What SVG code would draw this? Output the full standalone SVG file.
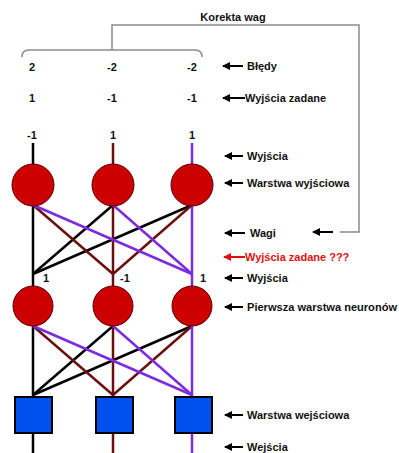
<svg xmlns="http://www.w3.org/2000/svg" width="399" height="453" viewBox="0 0 399 453">
<defs>
<style>
.t{font-family:"Liberation Sans",Arial,sans-serif;font-weight:bold;font-size:11px;fill:#111}
.n{text-anchor:middle}
.red{fill:#e01010}
.k{stroke:#000;stroke-width:2.5;fill:none}
.r{stroke:#6a1010;stroke-width:2.5;fill:none}
.p{stroke:#7b2be0;stroke-width:2.5;fill:none}
.neu{fill:#cc0000;stroke:#5a0000;stroke-width:1}
.inp{fill:#0050f0;stroke:#000;stroke-width:2}
.gl{stroke:#8a8a8a;stroke-width:1.5;fill:none}
.ar{stroke:#000;stroke-width:2;fill:none;marker-start:url(#ah)}
.arr{stroke:#e01010;stroke-width:2;fill:none;marker-start:url(#ahr)}
</style>
<marker id="ah" markerWidth="8" markerHeight="8" refX="7" refY="4" orient="auto-start-reverse" markerUnits="userSpaceOnUse"><path d="M0,0 L8,4 L0,8 z" fill="#000"/></marker>
<marker id="ahr" markerWidth="8" markerHeight="8" refX="7" refY="4" orient="auto-start-reverse" markerUnits="userSpaceOnUse"><path d="M0,0 L8,4 L0,8 z" fill="#e01010"/></marker>
</defs>
<rect width="399" height="453" fill="#fff"/>

<g id="feedback">
<text class="t n" x="233" y="21">Korekta wag</text>
<path class="gl" d="M22,57 Q22,50 29,50 L195,50 Q202,50 202,57"/>
<path class="gl" d="M112,50 L112,25 L359,25 L359,232 L340,232"/>
<line class="ar" x1="313" y1="232" x2="333" y2="232"/>
</g>

<g id="values">
<text class="t n" x="32" y="71">2</text>
<text class="t n" x="112" y="71">-2</text>
<text class="t n" x="192" y="71">-2</text>
<text class="t n" x="32" y="102">1</text>
<text class="t n" x="112" y="102">-1</text>
<text class="t n" x="192" y="102">-1</text>
<text class="t n" x="32" y="139">-1</text>
<text class="t n" x="113" y="139">1</text>
<text class="t n" x="192" y="139">1</text>
<text class="t" x="43" y="282">1</text>
<text class="t" x="120" y="282">-1</text>
<text class="t" x="200" y="282">1</text>
</g>

<g id="connectors">
<line class="k" x1="33" y1="143" x2="33" y2="166"/>
<line class="r" x1="113" y1="143" x2="113" y2="166"/>
<line class="p" x1="192" y1="143" x2="192" y2="166"/>
<line class="k" x1="33" y1="205" x2="33" y2="287"/>
<line class="k" x1="113" y1="205" x2="33" y2="274"/>
<line class="k" x1="192" y1="205" x2="33" y2="274"/>
<line class="r" x1="33" y1="205" x2="113" y2="274"/>
<line class="r" x1="113" y1="205" x2="113" y2="287"/>
<line class="r" x1="192" y1="205" x2="113" y2="274"/>
<line class="p" x1="33" y1="205" x2="192" y2="274"/>
<line class="p" x1="113" y1="205" x2="192" y2="274"/>
<line class="p" x1="192" y1="205" x2="192" y2="287"/>
<line class="k" x1="33" y1="326" x2="33" y2="397"/>
<line class="k" x1="113" y1="326" x2="33" y2="395"/>
<line class="k" x1="192" y1="326" x2="33" y2="395"/>
<line class="r" x1="33" y1="326" x2="113" y2="395"/>
<line class="r" x1="113" y1="326" x2="113" y2="397"/>
<line class="r" x1="192" y1="326" x2="113" y2="395"/>
<line class="p" x1="33" y1="326" x2="192" y2="395"/>
<line class="p" x1="113" y1="326" x2="192" y2="395"/>
<line class="p" x1="192" y1="326" x2="192" y2="397"/>
<line class="k" x1="33" y1="433" x2="33" y2="453"/>
<line class="r" x1="113" y1="433" x2="113" y2="453"/>
<line class="p" x1="192" y1="433" x2="192" y2="453"/>
</g>

<g id="out1"><circle class="neu" cx="33" cy="185" r="21"/></g>
<g id="out2"><circle class="neu" cx="113" cy="185" r="21"/></g>
<g id="out3"><circle class="neu" cx="192" cy="185" r="21"/></g>
<g id="hid1"><circle class="neu" cx="33" cy="306" r="20"/></g>
<g id="hid2"><circle class="neu" cx="113" cy="306" r="20"/></g>
<g id="hid3"><circle class="neu" cx="192" cy="306" r="20"/></g>
<g id="in1"><rect class="inp" x="15" y="397" width="37" height="36"/></g>
<g id="in2"><rect class="inp" x="96" y="397" width="37" height="36"/></g>
<g id="in3"><rect class="inp" x="175" y="397" width="37" height="36"/></g>

<g id="legend">
<line class="ar" x1="223" y1="66" x2="243" y2="66"/>
<text class="t" x="247" y="70">Błędy</text>
<line class="ar" x1="223" y1="98" x2="245" y2="98"/>
<text class="t" x="245" y="102">Wyjścia zadane</text>
<line class="ar" x1="225" y1="156" x2="243" y2="156"/>
<text class="t" x="247" y="160">Wyjścia</text>
<line class="ar" x1="225" y1="183" x2="243" y2="183"/>
<text class="t" x="247" y="187">Warstwa wyjściowa</text>
<line class="ar" x1="225" y1="233" x2="245" y2="233"/>
<text class="t" x="250" y="237">Wagi</text>
<line class="arr" x1="224" y1="257" x2="245" y2="257"/>
<text class="t red" x="245" y="261">Wyjścia zadane ???</text>
<line class="ar" x1="225" y1="278" x2="243" y2="278"/>
<text class="t" x="247" y="282">Wyjścia</text>
<line class="ar" x1="225" y1="307" x2="243" y2="307"/>
<text class="t" x="247" y="311" textLength="150" lengthAdjust="spacingAndGlyphs">Pierwsza warstwa neuronów</text>
<line class="ar" x1="225" y1="415" x2="243" y2="415"/>
<text class="t" x="247" y="419">Warstwa wejściowa</text>
<line class="ar" x1="225" y1="447" x2="243" y2="447"/>
<text class="t" x="247" y="451">Wejścia</text>
</g>
</svg>
